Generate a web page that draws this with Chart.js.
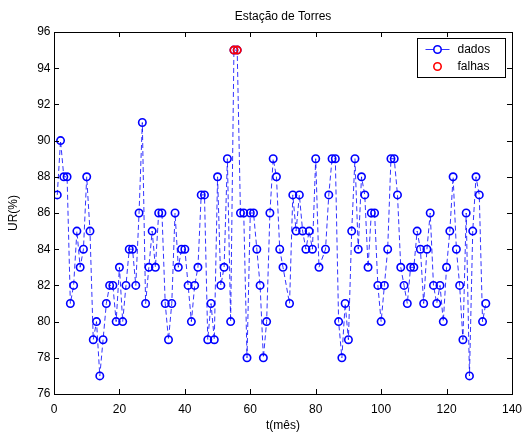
<!DOCTYPE html>
<html>
<head>
<meta charset="utf-8">
<title>Estação de Torres</title>
<script src="https://cdn.jsdelivr.net/npm/chart.js@4.4.0/dist/chart.umd.min.js"></script>
<style>
  html, body { margin: 0; padding: 0; background: #fff; }
  #wrap { width: 530px; height: 434px; }
</style>
</head>
<body>
<div id="wrap"><canvas id="lineChart" width="530" height="434"></canvas></div>
<script>
// mês de cada medição (faltam os meses 71 e 82)
var meses = [1, 2, 3, 4, 5, 6, 7, 8, 9, 10, 11, 12, 13, 14, 15, 16, 17, 18, 19, 20,
  21, 22, 23, 24, 25, 26, 27, 28, 29, 30, 31, 32, 33, 34, 35, 36, 37, 38, 39, 40,
  41, 42, 43, 44, 45, 46, 47, 48, 49, 50, 51, 52, 53, 54, 55, 56, 57, 58, 59, 60,
  61, 62, 63, 64, 65, 66, 67, 68, 69, 70, 72, 73, 74, 75, 76, 77, 78, 79, 80, 81,
  83, 84, 85, 86, 87, 88, 89, 90, 91, 92, 93, 94, 95, 96, 97, 98, 99, 100, 101, 102,
  103, 104, 105, 106, 107, 108, 109, 110, 111, 112, 113, 114, 115, 116, 117, 118, 119, 120,
  121, 122, 123, 124, 125, 126, 127, 128, 129, 130, 131, 132];

// umidade relativa (%)
var ur = [87, 90, 88, 88, 81, 82, 85, 83, 84, 88, 85, 79, 80, 77, 79, 81, 82, 82, 80, 83,
  80, 82, 84, 84, 82, 86, 91, 81, 83, 85, 83, 86, 86, 81, 79, 81, 86, 83, 84, 84,
  82, 80, 82, 83, 87, 87, 79, 81, 79, 88, 82, 83, 89, 80, 95, 95, 86, 86, 78, 86,
  86, 84, 82, 78, 80, 86, 89, 88, 84, 83, 81, 87, 85, 87, 85, 84, 85, 84, 89, 83,
  84, 87, 89, 89, 80, 78, 81, 79, 85, 89, 84, 88, 87, 83, 86, 86, 82, 80, 82, 84,
  89, 89, 87, 83, 82, 81, 83, 83, 85, 84, 81, 84, 86, 82, 81, 82, 80, 83,
  85, 88, 84, 82, 79, 86, 77, 85, 88, 87, 80, 81];

// falhas preenchidas
var falhaMeses = [55, 56];
var falhaUr = [95, 95];

// ticks dos eixos
var xTicks = [0, 20, 40, 60, 80, 100, 120, 140];
var yTicks = [76, 78, 80, 82, 84, 86, 88, 90, 92, 94, 96];

var fonte = "'Liberation Sans', Arial, sans-serif";

function pontos(xs, ys) {
  return xs.map(function(x, i) { return { x: x, y: ys[i] }; });
}

// caixa do eixo com ticks para dentro (estilo matlab)
var caixaPlugin = {
  id: 'caixa',
  afterDraw: function(chart) {
    var ctx = chart.ctx;
    var a = chart.chartArea;
    var sx = chart.scales.x;
    var sy = chart.scales.y;
    var t = 5;
    ctx.save();
    ctx.strokeStyle = '#000';
    ctx.lineWidth = 1;
    ctx.beginPath();
    xTicks.forEach(function(v) {
      var px = Math.round(sx.getPixelForValue(v)) + 0.5;
      ctx.moveTo(px, a.bottom); ctx.lineTo(px, a.bottom - t);
      ctx.moveTo(px, a.top); ctx.lineTo(px, a.top + t);
    });
    yTicks.forEach(function(v) {
      var py = Math.round(sy.getPixelForValue(v)) + 0.5;
      ctx.moveTo(a.left, py); ctx.lineTo(a.left + t, py);
      ctx.moveTo(a.right, py); ctx.lineTo(a.right - t, py);
    });
    ctx.stroke();
    ctx.strokeRect(Math.round(a.left) + 0.5, Math.round(a.top) + 0.5,
      Math.round(a.right - a.left), Math.round(a.bottom - a.top));
    ctx.restore();
  }
};

// legenda com caixa no canto superior direito
var legendaPlugin = {
  id: 'legendaBox',
  afterDraw: function(chart) {
    var ctx = chart.ctx;
    var a = chart.chartArea;
    var ds = chart.data.datasets;
    var w = 88, h = 39;
    var x0 = Math.round(a.right) - 95 + 0.5;
    var y0 = Math.round(a.top) + 6 + 0.5;
    ctx.save();
    ctx.fillStyle = '#fff';
    ctx.fillRect(x0, y0, w, h);
    ctx.strokeStyle = '#000';
    ctx.lineWidth = 1;
    ctx.strokeRect(x0, y0, w, h);
    ds.forEach(function(d, i) {
      var cy = y0 + 11 + i * 17;
      var cx = x0 + 20;
      if (d.showLine !== false) {
        ctx.strokeStyle = d.borderColor;
        ctx.lineWidth = 1;
        ctx.beginPath();
        ctx.moveTo(cx - 12, cy); ctx.lineTo(cx - 4, cy);
        ctx.moveTo(cx + 4, cy); ctx.lineTo(cx + 12, cy);
        ctx.stroke();
      }
      ctx.strokeStyle = d.pointBorderColor;
      ctx.lineWidth = d.pointBorderWidth;
      ctx.beginPath();
      ctx.arc(cx, cy, d.pointRadius, 0, Math.PI * 2);
      ctx.stroke();
      ctx.fillStyle = '#000';
      ctx.font = '12px ' + fonte;
      ctx.textAlign = 'left';
      ctx.textBaseline = 'middle';
      ctx.fillText(d.label, x0 + 40, cy);
    });
    ctx.restore();
  }
};

function printLineChart() {
  var ctx = document.getElementById('lineChart').getContext('2d');
  new Chart(ctx, {
    type: 'scatter',
    data: {
      datasets: [{
        label: 'dados',
        data: pontos(meses, ur),
        showLine: true,
        borderColor: 'rgba(0,0,255,0.8)',
        borderWidth: 1,
        borderDash: [5, 3],
        pointBorderColor: '#0000ff',
        pointBackgroundColor: 'rgba(0,0,0,0)',
        pointBorderWidth: 1.6,
        pointRadius: 3.7,
        order: 2
      }, {
        label: 'falhas',
        data: pontos(falhaMeses, falhaUr),
        showLine: false,
        pointBorderColor: '#ff0000',
        pointBackgroundColor: 'rgba(0,0,0,0)',
        pointBorderWidth: 1.6,
        pointRadius: 3.7,
        order: 1
      }]
    },
    options: {
      responsive: false,
      animation: false,
      layout: { padding: { left: 0, right: 15, top: 0, bottom: 0 } },
      plugins: {
        legend: { display: false },
        tooltip: { enabled: false },
        title: {
          display: true,
          fullSize: false,
          text: 'Estação de Torres',
          color: '#000',
          font: { family: fonte, size: 12, weight: 'normal' },
          padding: { top: 9.4, bottom: 8.2 }
        }
      },
      scales: {
        x: {
          type: 'linear',
          min: 0,
          max: 140,
          grid: { display: false, drawTicks: false },
          border: { display: false },
          afterBuildTicks: function(s) { s.ticks = xTicks.map(function(v) { return { value: v }; }); },
          ticks: { color: '#000', padding: 8, font: { family: fonte, size: 12 } },
          title: { display: true, text: 't(mês)', color: '#000', padding: { top: 0, bottom: 0.8 }, font: { family: fonte, size: 12 } },
          afterFit: function(s) { s.height = 40; }
        },
        y: {
          min: 76,
          max: 96,
          grid: { display: false, drawTicks: false },
          border: { display: false },
          afterBuildTicks: function(s) { s.ticks = yTicks.map(function(v) { return { value: v }; }); },
          ticks: { color: '#000', padding: 3.5, font: { family: fonte, size: 12 } },
          title: { display: true, text: 'UR(%)', color: '#000', padding: { top: 6.8, bottom: 0 }, font: { family: fonte, size: 12 } },
          afterFit: function(s) { s.width = 54; }
        }
      }
    },
    plugins: [caixaPlugin, legendaPlugin]
  });
}

printLineChart();
</script>
</body>
</html>
